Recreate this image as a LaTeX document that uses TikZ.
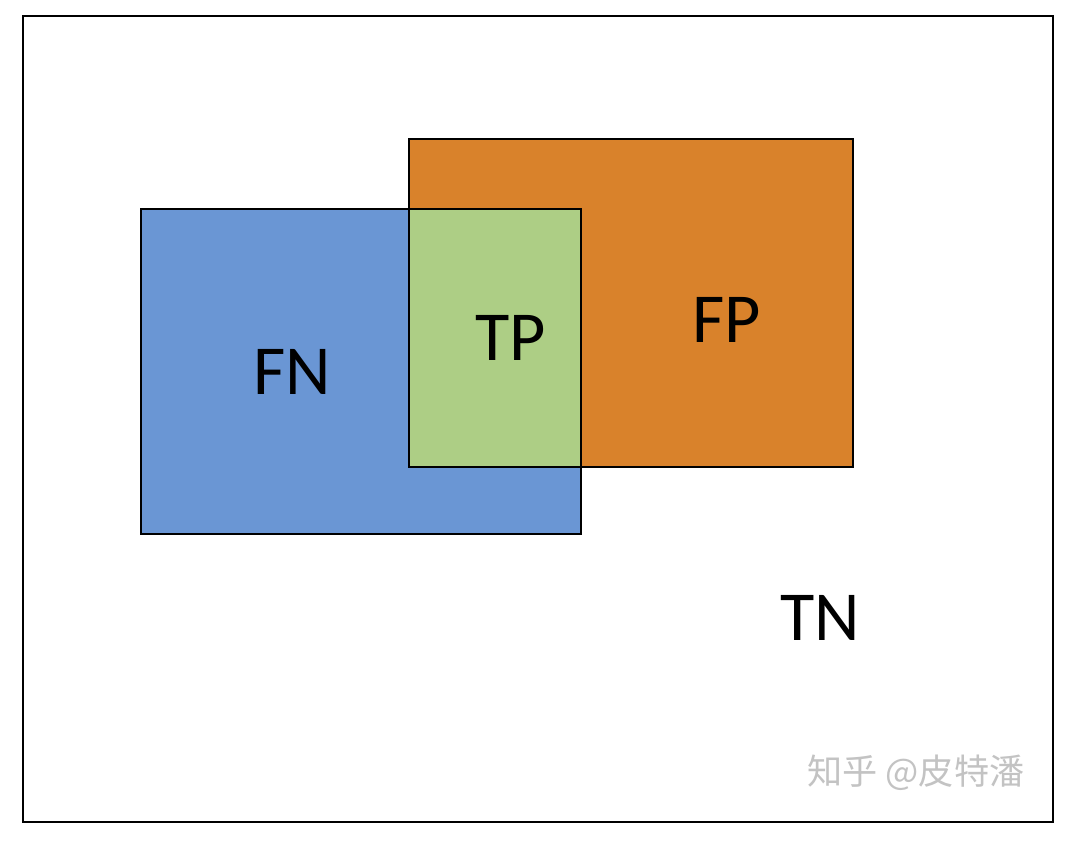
\documentclass[tikz,border=0pt]{standalone}
\usepackage{fontspec}
\setmainfont{Carlito}
\newfontfamily\cjk{Noto Sans CJK SC}
\definecolor{fnblue}{RGB}{106,150,212}
\definecolor{fporange}{RGB}{217,130,43}
\definecolor{tpgreen}{RGB}{173,206,133}
\definecolor{markgray}{RGB}{195,195,195}
\begin{document}
\begin{tikzpicture}[x=0.02cm,y=-0.02cm,
	box/.style={draw=black,line width=0.9pt},
	lab/.style={font=\fontsize{40}{42}\selectfont,text=black}]
	\useasboundingbox (0,0) rectangle (1078,842);
	\fill [white] (0,0) rectangle (1078,842);
	\draw [line width=1.2pt] (23,16) rectangle (1053,822);
	\draw [box, fill=fnblue] (141,209) rectangle (581,534);
	\draw [box, fill=fporange] (409,139) rectangle (853,467);
	\draw [box, fill=tpgreen] (409,209) rectangle (581,467);
	\node [lab] (fn) at (292,372) {FN};
	\node [lab] (tp) at (511,338) {TP};
	\node [lab] (fp) at (727,320) {FP};
	\node [lab] (tn) at (820,618) {TN};
	\node [text=markgray, font=\cjk\fontsize{20}{22}\selectfont] (mark) at (916,773) {知乎 @皮特潘};
\end{tikzpicture}
\end{document}
